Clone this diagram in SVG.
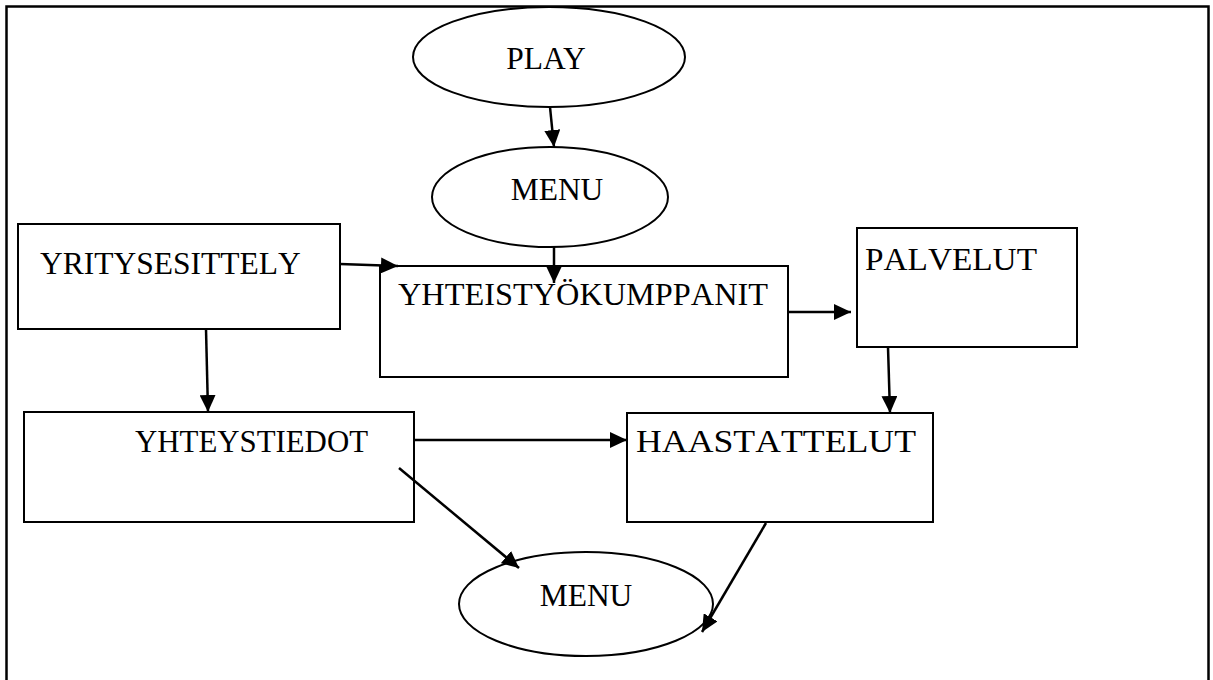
<svg xmlns="http://www.w3.org/2000/svg" width="1213" height="680" viewBox="0 0 1213 680">
<style>
.box{fill:#fff;stroke:#000;stroke-width:2}
.ell{fill:#fff;stroke:#000;stroke-width:2}
.lbl{font-family:"Liberation Serif","Times New Roman",serif;font-size:31.5px;fill:#000;font-kerning:none}
.con{fill:none;stroke:#000;stroke-width:2.5}
</style>
<defs>
<marker id="ah" markerUnits="userSpaceOnUse" markerWidth="18" markerHeight="16" refX="17" refY="8" orient="auto">
<path d="M0,0 L17,8 L0,16 Z" fill="#000"/>
</marker>
</defs>
<rect x="6.5" y="6.5" width="1202" height="690" fill="none" stroke="#000" stroke-width="2.5"/>
<g id="play"><ellipse class="ell" cx="549" cy="57" rx="136" ry="50"/><text class="lbl" x="546" y="69" text-anchor="middle" style="font-kerning:normal">PLAY</text></g>
<g id="menu1"><ellipse class="ell" cx="550" cy="197" rx="118" ry="50"/><text class="lbl" x="557" y="200" text-anchor="middle">MENU</text></g>
<g id="yritys"><rect class="box" x="18" y="224" width="322" height="105"/><text class="lbl" x="40" y="274">YRITYSESITTELY</text></g>
<g id="yhteis"><rect class="box" x="380" y="266" width="408" height="111"/><text class="lbl" x="398" y="305" textLength="370" lengthAdjust="spacingAndGlyphs">YHTEISTYÖKUMPPANIT</text></g>
<g id="palvelut"><rect class="box" x="857" y="228" width="220" height="119"/><text class="lbl" x="865" y="270" textLength="172" lengthAdjust="spacingAndGlyphs">PALVELUT</text></g>
<g id="yhteys"><rect class="box" x="24" y="412" width="390" height="110"/><text class="lbl" x="135" y="452" textLength="233" lengthAdjust="spacingAndGlyphs">YHTEYSTIEDOT</text></g>
<g id="haast"><rect class="box" x="627" y="413" width="306" height="109"/><text class="lbl" x="636" y="452" textLength="280" lengthAdjust="spacingAndGlyphs">HAASTATTELUT</text></g>
<g id="menu2"><ellipse class="ell" cx="586" cy="604" rx="127" ry="52"/><text class="lbl" x="586" y="606" text-anchor="middle">MENU</text></g>
<g id="connectors">
<line class="con" x1="550" y1="107" x2="554" y2="147" marker-end="url(#ah)"/>
<line class="con" x1="554" y1="247" x2="554" y2="283" marker-end="url(#ah)"/>
<line class="con" x1="340" y1="264" x2="398" y2="266" marker-end="url(#ah)"/>
<line class="con" x1="788" y1="312" x2="851" y2="312" marker-end="url(#ah)"/>
<line class="con" x1="888" y1="347" x2="890" y2="413" marker-end="url(#ah)"/>
<line class="con" x1="206" y1="329" x2="208" y2="412" marker-end="url(#ah)"/>
<line class="con" x1="414" y1="440" x2="627" y2="440" marker-end="url(#ah)"/>
<line class="con" x1="399" y1="468" x2="519" y2="568" marker-end="url(#ah)"/>
<line class="con" x1="766" y1="523" x2="702" y2="632" marker-end="url(#ah)"/>
</g>
</svg>
